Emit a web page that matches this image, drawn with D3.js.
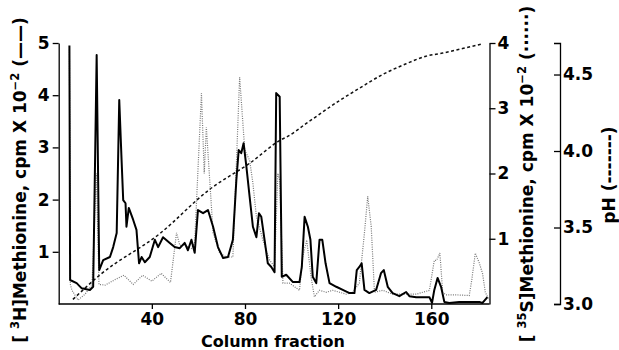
<!DOCTYPE html>
<html><head><meta charset="utf-8">
<script src="https://cdn.jsdelivr.net/npm/d3@7"></script>
<style>body{margin:0;background:#fff}svg{display:block}</style>
</head><body>
<script>
// Column fraction vs [3H]Methionine (cpm x 10^-2), left axis
const h3Fraction = [4.6,4.9,7.7,9.9,13.4,14.8,16.3,17.4,19.1,22.0,23.4,24.9,26.0,27.0,27.7,28.7,29.1,30.1,32.0,33.4,34.5,35.6,37.0,39.1,41.3,42.7,44.8,47.7,49.8,52.0,54.1,55.5,57.0,58.4,59.8,62.0,64.1,66.3,68.4,70.6,72.7,74.8,76.3,77.3,78.4,79.4,80.6,82.0,83.4,84.9,86.0,87.0,88.4,89.8,91.3,92.7,93.4,94.9,95.8,97.7,100.6,103.4,104.4,105.6,107.0,108.1,109.1,110.6,112.0,113.2,114.6,116.3,119.2,122.0,124.9,127.0,128.0,129.1,130.1,131.3,133.4,136.3,138.4,139.6,141.3,143.4,146.3,149.2,150.6,153.5,156.3,159.2,160.3,161.3,162.7,164.2,165.6,167.7,172.0,176.3,180.6,182.0,184.1];
const h3Values = [4.95,0.46,0.4,0.3,0.27,0.33,4.77,0.65,0.84,0.9,1.09,1.36,3.91,2.76,1.99,1.93,1.48,1.84,1.61,1.42,0.78,0.9,0.8,0.9,1.23,1.09,1.28,1.17,1.09,1.07,1.17,1.03,1.23,0.98,1.8,1.74,1.8,1.48,1.09,0.88,0.9,1.23,2.38,2.95,2.89,3.08,2.63,2.05,1.48,1.28,1.74,1.67,1.23,0.78,0.71,0.61,4.04,3.97,0.52,0.56,0.42,0.42,0.71,1.67,1.48,1.23,0.52,0.4,1.23,1.23,0.78,0.4,0.33,0.27,0.21,0.21,0.65,0.71,0.78,0.27,0.21,0.27,0.59,0.65,0.33,0.21,0.15,0.23,0.15,0.13,0.13,0.13,0.02,0.27,0.5,0.33,0.04,0.02,0.04,0.04,0.04,0.02,0.13];

// [35S]Methionine (cpm x 10^-2), right axis
const s35Fraction = [4.6,5.0,5.7,8.3,11.3,14.3,16.2,17.3,20,24,28,32,36,40,44,48,50.6,52.0,54.1,57.0,58.4,61.3,62.5,63.4,66.3,69.1,72.0,74.8,77.7,79.9,82.0,83.4,84.9,87.7,90.6,92.7,94.1,94.9,96.3,99.1,103.4,104.8,106.5,108.4,109.8,112.0,114.9,117.7,120.6,123.5,126.3,129.1,131.3,132.7,134.2,135.6,139.2,143.4,147.7,153.5,159.2,161.3,162.3,163.7,164.9,166.3,170.6,176.3,177.4,178.9,180.6,182.0,183.2,184.9];
const s35Values = [3.9,0.3,0.21,0.06,0.15,0.29,2.0,0.3,0.29,0.37,0.44,0.3,0.44,0.35,0.47,0.33,1.09,0.9,0.9,0.85,0.95,3.23,2.0,2.71,1.09,0.78,0.72,0.72,3.48,2.36,2.2,1.85,1.34,0.98,0.67,0.57,2.0,1.9,0.32,0.32,0.21,0.72,0.98,0.41,0.11,0.21,0.18,0.21,0.18,0.15,0.18,0.32,1.09,1.65,1.19,0.18,0.21,0.15,0.15,0.15,0.21,0.67,0.67,0.78,0.18,0.14,0.14,0.13,0.37,0.78,0.63,0.47,0.18,0.06];

// pH gradient
const phFraction = [6.1,17.7,43.4,64.9,82.0,96.3,97.7,106.3,120.6,129.1,139.1,149.2,157.7,164.9,173.4,182.0];
const phValues = [3.03,3.19,3.46,3.75,3.92,4.08,4.09,4.18,4.33,4.41,4.50,4.57,4.62,4.64,4.67,4.70];

const xTicks = [40,80,120,160];
const h3Ticks = [1,2,3,4,5];
const s35Ticks = [1,2,3,4];
const phTicks = [3.0,3.5,4.0,4.5];

const W = 619, H = 350;
const svg = d3.select("body").append("svg").attr("width", W).attr("height", H);
const font = "'DejaVu Sans', sans-serif";

const x = d3.scaleLinear().domain([0,185]).range([58.7,489.5]);
const yL = d3.scaleLinear().domain([0,5]).range([304,43]);
const yR = d3.scaleLinear().domain([0,4]).range([304,43]);
const yP = d3.scaleLinear().domain([3.0,4.706]).range([304,43]);

const h3 = h3Fraction.map((f,i)=>[f,h3Values[i]]);
const s35 = s35Fraction.map((f,i)=>[f,s35Values[i]]);
const ph = phFraction.map((f,i)=>[f,phValues[i]]);

// lines
svg.append("path").datum(s35)
  .attr("d", d3.line().x(d=>x(d[0])).y(d=>yR(d[1])))
  .attr("fill","none").attr("stroke","#777").attr("stroke-width",1.2)
  .attr("stroke-dasharray","1,1.3");
svg.append("path").datum(ph)
  .attr("d", d3.line().curve(d3.curveMonotoneX).x(d=>x(d[0])).y(d=>yP(d[1])))
  .attr("fill","none").attr("stroke","#111").attr("stroke-width",1.5)
  .attr("stroke-dasharray","3,2.5");
svg.append("path").datum(h3)
  .attr("d", d3.line().x(d=>x(d[0])).y(d=>yL(d[1])))
  .attr("fill","none").attr("stroke","#000").attr("stroke-width",2)
  .attr("stroke-linejoin","round");

function styleAxis(g){
  g.selectAll("path,line").attr("stroke","#000").attr("stroke-width",1.3);
  g.selectAll("text").attr("font-family",font).attr("font-weight","bold")
    .attr("font-size",17).attr("fill","#000");
}

// bottom axis
const gx = svg.append("g").attr("transform","translate(0,304)")
  .call(d3.axisBottom(x).tickValues(xTicks).tickSize(5).tickSizeOuter(0).tickPadding(4));
gx.select(".domain").attr("d", `M${x(0)},0H${x(185)}`);
styleAxis(gx);

// left axis
const gl = svg.append("g").attr("transform",`translate(${x(0)},0)`)
  .call(d3.axisLeft(yL).tickValues(h3Ticks).tickFormat(d3.format("d")).tickSize(6).tickSizeOuter(0).tickPadding(3));
styleAxis(gl);

// right 35S axis
const gr = svg.append("g").attr("transform",`translate(${x(185)},0)`)
  .call(d3.axisRight(yR).tickValues(s35Ticks).tickFormat(d3.format("d")).tickSize(6).tickSizeOuter(0).tickPadding(2));
styleAxis(gr);

// pH axis (ticks to left, labels to right)
const gp = svg.append("g").attr("transform","translate(560,0)")
  .call(d3.axisLeft(yP).tickValues(phTicks).tickFormat(d3.format(".1f")).tickSize(6).tickSizeOuter(6));
gp.selectAll(".tick text").attr("x",3).attr("text-anchor","start");
styleAxis(gp);

// axis titles
svg.append("text").attr("x", x(92)).attr("y", 347).attr("text-anchor","middle")
  .attr("font-family",font).attr("font-weight","bold").attr("font-size",16)
  .text("Column fraction");

function rotTitle(cx, cy, parts, size){
  const t = svg.append("text").attr("transform",`translate(${cx},${cy}) rotate(-90)`)
    .attr("text-anchor","middle").attr("font-family",font).attr("font-weight","bold")
    .attr("font-size",size).attr("fill","#000");
  parts.forEach(p=>{
    const s = t.append("tspan").text(p.t);
    if(p.sup){ s.attr("font-size",size*0.68).attr("dy",-size*0.4); }
    else if(p.after){ s.attr("dy",size*0.4); }
  });
  return t;
}
rotTitle(26, 180, [{t:"[ "},{t:"3",sup:1},{t:"H]Methionine, cpm X 10",after:1},{t:"−2",sup:1},{t:" (——)",after:1}], 17);
rotTitle(533, 174, [{t:"[ "},{t:"35",sup:1},{t:"S]Methionine, cpm X 10",after:1},{t:"−2",sup:1},{t:" (······)",after:1}], 17);
rotTitle(615, 175, [{t:"pH (-------)"}], 17);
</script>
</body></html>
